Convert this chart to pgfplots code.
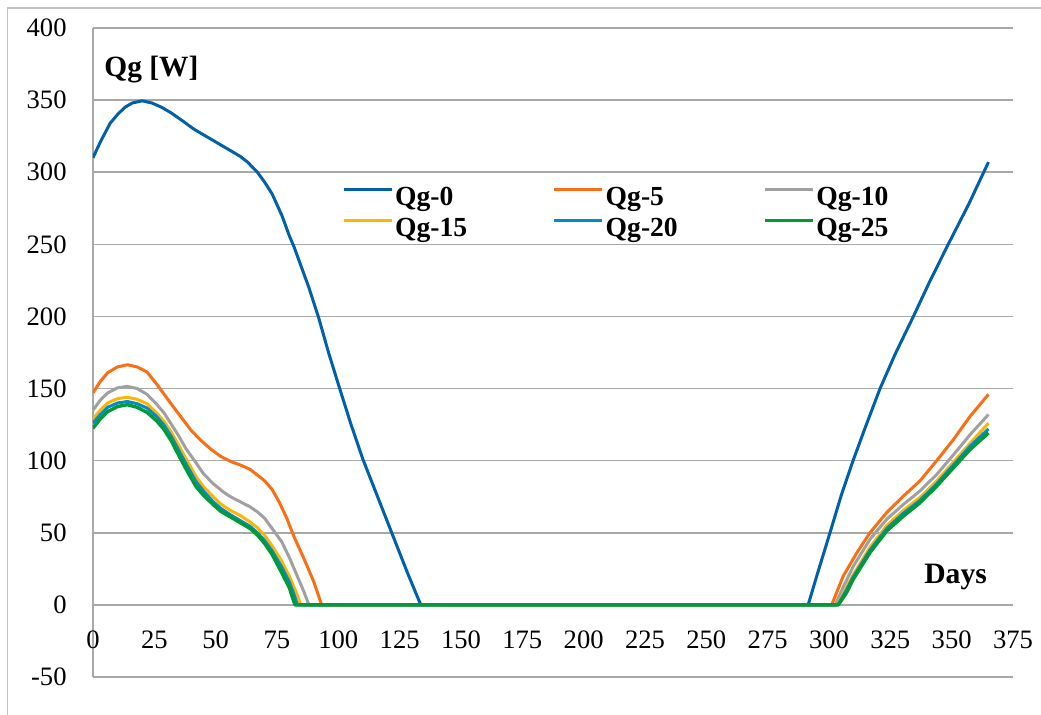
\documentclass[border=0pt]{standalone}
\usepackage{fontspec}
\setmainfont{Liberation Serif}
\usepackage{pgfplots}
\pgfplotsset{compat=1.18}
\definecolor{gridc}{RGB}{168,168,168}
\definecolor{frame}{RGB}{195,195,195}
\definecolor{c0}{RGB}{0,96,170}
\definecolor{c5}{RGB}{250,110,20}
\definecolor{c10}{RGB}{160,160,160}
\definecolor{c15}{RGB}{255,180,0}
\definecolor{c20}{RGB}{0,140,200}
\definecolor{c25}{RGB}{0,155,55}
\begin{document}
\begin{tikzpicture}
\useasboundingbox (0,0) rectangle (520.5pt,357.5pt);
\draw[frame, line width=0.8pt] (3.75pt,-10pt) rectangle (540pt,353.4pt);
\begin{axis}[
  at={(46.5pt,19pt)}, anchor=south west,
  scale only axis, width=460pt, height=324.5pt,
  xmin=0, xmax=375, ymin=-50, ymax=400,
  xtick={0,25,...,375}, ytick={-50,0,...,400},
  yticklabels={-50,0,50,100,150,200,250,300,350,400},
  axis lines*=left,
  axis line style={draw=gridc, line width=0.8pt},
  ymajorgrids, grid style={draw=gridc, line width=0.8pt},
  major tick length=0pt,
  tick label style={font=\fontsize{13.3}{16}\selectfont},
  xticklabel style={anchor=center, yshift=18.5pt},
  yticklabel style={anchor=east, inner sep=0pt, xshift=-13pt},
  /pgf/number format/assume math mode=true,
  legend columns=3,
  legend cell align=left,
  legend style={at={(0.2703,0.7135)}, anchor=west, draw=none, fill=none, inner sep=0pt,
    nodes={inner sep=1pt, text height=10pt, text depth=3pt, font=\fontsize{13.8}{16}\selectfont\bfseries},
    row sep=0.3pt,
    /tikz/every even column/.append style={column sep=41.8pt}},
  legend image code/.code={\draw[#1, line width=1.5pt] (0pt,4.6pt) -- (24pt,4.6pt);},
  every axis plot/.append style={line width=1.5pt, line join=round, no markers},
]
\addplot[c0] coordinates {
(0,310) (3,321) (7,334) (10,340) (13,345) (16,348) (20,349.5) (24,348) (28,345) (32,341)
(37,335) (41,330) (45,326) (49,322) (53,318) (57,314) (60,311) (63,307) (67,300) (70,293)
(73,285) (77,270) (80,256) (82,248) (85,234) (88,220) (92,199) (96,175) (98,164) (100,153)
(105,126) (110,101) (116,75) (122,49) (128,23) (133.6,0)
(291.5,0) (295,20) (300.4,50) (305,76) (309.8,100) (315,124) (320.8,150) (327,174) (334.4,200)
(341,224) (348.6,250) (357,278) (365,307)};
\addlegendentry{Qg-0}
\addplot[c5] coordinates {
(0,147) (3,155) (6,161) (10,165) (14,166.5) (18,165) (22,161.5) (26,153) (29,146) (32,139)
(36,130) (40,121) (44,114) (48,108) (52,103) (56,99.5) (60,97) (64,94) (67,90) (70,86)
(73,80) (76,71) (79,60) (82,47) (86,32) (90,16) (93.2,0)
(301.1,0) (305.8,20) (311.3,36) (316.7,50) (323.5,64) (330.3,75.4) (337.1,86) (343.9,100)
(350.7,114.6) (357.5,130.7) (365,146)};
\addlegendentry{Qg-5}
\addplot[c10] coordinates {
(0,135) (3,142) (6,147) (10,150.5) (14,151.5) (18,150) (22,146) (26,139) (29,133) (32,125)
(35,117) (38,108) (42,98.5) (45,91) (49,84) (53,78.5) (56,75) (60,71.5) (64,68) (67,64.5)
(70,60) (73,53) (77,43.5) (80,33) (83,21) (86,9) (88,0)
(302.5,0) (306,13) (310,27) (316.7,45.4) (323.5,59.3) (330.3,69.6) (337.1,79) (343.9,90.4)
(350.7,104) (357.5,118) (365,132)};
\addlegendentry{Qg-10}
\addplot[c15] coordinates {
(0,129) (3,135) (6,140) (10,143) (14,144) (18,142.5) (22,139.5) (26,133) (29,127) (32,119.5)
(35,110.5) (38,101) (42,89) (45,82) (49,75) (52,70) (56,65.5) (60,62) (64,57.5) (67,53.5)
(70,48) (73,41) (77,30) (80,20) (83,8) (84.7,0)
(303.3,0) (306.5,10) (309.9,21) (316.7,40) (323.5,55) (330.3,65.5) (337.1,74.5) (343.9,86)
(350.7,99) (357.5,112) (365,126)};
\addlegendentry{Qg-15}
\addplot[c20] coordinates {
(0,126) (3,132) (6,137) (10,140) (14,141) (18,139.5) (22,136.5) (26,130.5) (29,124.5) (32,116.5)
(35,107) (38,97.5) (42,85.5) (45,79) (49,71.5) (52,67) (56,62.5) (60,58.5) (64,54.5) (67,50)
(70,44.5) (73,37.5) (77,26) (80,16) (82,7) (83.3,0)
(303.6,0) (306.7,9) (309.9,19.5) (316.7,38) (323.5,53) (330.3,63.5) (337.1,72.5) (343.9,84)
(350.7,97) (357.5,110) (365,122)};
\addlegendentry{Qg-20}
\addplot[c25, line width=1.7pt] coordinates {
(0,122.5) (3,129) (6,134) (10,137.5) (14,138.8) (18,137) (22,133.5) (26,127.5) (29,121.5) (32,113.5)
(35,103.5) (38,94) (42,82) (45,76) (49,69.5) (52,65) (56,61) (60,57) (64,53) (67,48.5)
(70,42.5) (73,35) (77,22) (80,12) (82.3,0)
(303.8,0) (307,8) (309.9,17.8) (316.7,36.2) (323.5,51.2) (330.3,61.5) (337.1,70.8) (343.9,82.3)
(350.7,95) (357.5,107.7) (365,119.2)};
\addlegendentry{Qg-25}
\node[anchor=base west, inner sep=0pt, font=\fontsize{14.7}{17}\selectfont\bfseries] at (axis cs:4.5,366.3) {Qg [W]};
\node[anchor=base, inner sep=0pt, font=\fontsize{14.8}{17}\selectfont\bfseries] at (axis cs:351.6,15) {Days};
\end{axis}
\end{tikzpicture}
\end{document}
